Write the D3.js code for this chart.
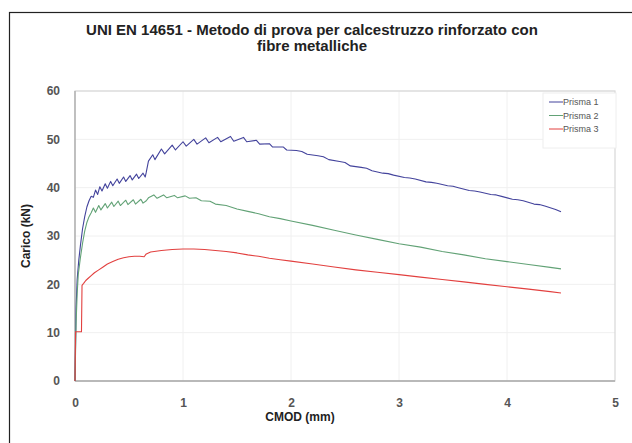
<!DOCTYPE html>
<html><head><meta charset="utf-8">
<script src="https://cdn.jsdelivr.net/npm/d3@7"></script>
<style>body{margin:0;background:#fff;}svg{display:block;}text{font-family:"Liberation Sans",Arial,sans-serif;}</style>
</head><body>
<svg id="c" width="632" height="443"></svg>
<script>
const titleLines = ["UNI EN 14651 - Metodo di prova per calcestruzzo rinforzato con", "fibre metalliche"];
const xLabel = "CMOD (mm)";
const yLabel = "Carico (kN)";
const xTicks = [0, 1, 2, 3, 4, 5];
const yTicks = [0, 10, 20, 30, 40, 50, 60];
const seriesNames = ["Prisma 1", "Prisma 2", "Prisma 3"];
const seriesColors = ["#43439c", "#62a276", "#e2403f"];

const p1x = [0,0.01,0.02,0.035,0.05,0.07,0.09,0.11,0.13,0.15,0.17,0.19,0.21,0.23,0.25,0.28,0.30,0.33,0.35,0.39,0.41,0.45,0.47,0.51,0.53,0.57,0.59,0.63,0.65,0.66,0.68,0.72,0.74,0.80,0.83,0.90,0.93,1.00,1.03,1.10,1.13,1.21,1.24,1.32,1.35,1.44,1.47,1.56,1.59,1.68,1.71,1.80,1.83,1.93,1.96,2.05,2.10,2.15,2.25,2.30,2.35,2.45,2.50,2.55,2.65,2.70,2.75,2.85,2.90,2.95,3.05,3.10,3.15,3.25,3.30,3.35,3.45,3.50,3.55,3.65,3.70,3.75,3.85,3.90,3.95,4.05,4.10,4.15,4.25,4.30,4.35,4.45,4.50];
const p1y = [0,15,21,25,28,31.5,34,36,37.3,38.2,38.0,39.5,38.6,40.2,39.3,40.8,39.9,41.3,40.4,41.8,40.9,42.2,41.3,42.5,41.6,42.8,41.9,43.0,42.2,43.2,45.5,46.8,45.8,48.0,47.0,48.8,47.8,49.5,48.6,50.0,49.0,50.3,49.3,50.4,49.5,50.6,49.6,50.4,49.5,49.8,49.0,49.1,48.4,48.4,47.8,47.7,47.5,46.9,46.6,46.4,45.8,45.4,45.2,44.5,44.2,44.0,43.5,43.0,42.9,42.6,42.1,42.0,41.8,41.2,41.1,40.9,40.4,40.3,40.0,39.4,39.3,39.1,38.6,38.5,38.2,37.6,37.5,37.3,36.6,36.5,36.2,35.5,35.0];

const p2x = [0,0.01,0.02,0.03,0.05,0.07,0.09,0.11,0.13,0.15,0.17,0.19,0.22,0.24,0.28,0.30,0.34,0.36,0.40,0.42,0.47,0.49,0.54,0.56,0.61,0.63,0.66,0.68,0.73,0.76,0.82,0.85,0.92,0.95,1.02,1.06,1.12,1.17,1.25,1.30,1.40,1.50,1.60,1.70,1.80,1.90,2.00,2.20,2.40,2.60,2.80,3.00,3.20,3.40,3.60,3.80,4.00,4.20,4.40,4.50];
const p2y = [0,12,18,22,25.5,28.5,31,32.8,34,34.8,35.8,34.9,36.3,35.4,36.7,35.8,37.0,36.1,37.2,36.3,37.4,36.5,37.5,36.6,37.6,36.8,37.3,37.9,38.5,37.8,38.5,37.9,38.4,37.9,38.3,37.8,37.9,37.3,37.2,36.6,36.3,35.6,35.1,34.6,34.0,33.6,33.1,32.2,31.2,30.2,29.3,28.4,27.7,26.8,26.1,25.3,24.7,24.1,23.5,23.2];

const p3x = [0,0.005,0.03,0.06,0.065,0.08,0.10,0.12,0.15,0.18,0.22,0.26,0.30,0.35,0.40,0.45,0.50,0.55,0.60,0.64,0.66,0.70,0.80,0.90,1.00,1.10,1.20,1.30,1.40,1.50,1.60,1.70,1.80,1.90,2.00,2.20,2.40,2.60,2.80,3.00,3.20,3.40,3.60,3.80,4.00,4.20,4.40,4.50];
const p3y = [0,10.2,10.2,10.2,19.8,20.2,20.8,21.2,21.8,22.4,23.0,23.6,24.2,24.7,25.2,25.5,25.7,25.8,25.8,25.7,26.3,26.7,27.0,27.2,27.3,27.3,27.2,27.0,26.8,26.5,26.1,25.8,25.4,25.1,24.8,24.2,23.6,23.0,22.5,22.0,21.5,21.0,20.5,20.0,19.5,19.0,18.5,18.2];

const seriesX = [p1x, p2x, p3x];
const seriesY = [p1y, p2y, p3y];

const svg = d3.select("#c");
const m = {l:75, r:615, t:91, b:381};
const x = d3.scaleLinear().domain([0,5]).range([m.l, m.r]);
const y = d3.scaleLinear().domain([0,60]).range([m.b, m.t]);

// outer frame
svg.append("rect").attr("x",9.5).attr("y",12.5).attr("width",640).attr("height",450)
  .attr("fill","#fff").attr("stroke","#222").attr("stroke-width",1.2);

// gridlines
svg.append("g").selectAll("line").data(yTicks.slice(1)).join("line")
  .attr("x1",m.l).attr("x2",m.r).attr("y1",d=>y(d)).attr("y2",d=>y(d))
  .attr("stroke","#f0f0f0").attr("stroke-width",1);
svg.append("g").selectAll("line").data(xTicks.slice(1,-1)).join("line")
  .attr("y1",m.t).attr("y2",m.b).attr("x1",d=>x(d)).attr("x2",d=>x(d))
  .attr("stroke","#f0f0f0").attr("stroke-width",1);

// plot border
svg.append("rect").attr("x",m.l).attr("y",m.t).attr("width",m.r-m.l).attr("height",m.b-m.t)
  .attr("fill","none").attr("stroke","#d8d8d8").attr("stroke-width",1.2);

// axes
const xAxis = d3.axisBottom(x).tickValues(xTicks).tickSize(0).tickPadding(17).tickFormat(d3.format("d"));
const yAxis = d3.axisLeft(y).tickValues(yTicks).tickSize(0).tickPadding(15).tickFormat(d3.format("d"));
const gx = svg.append("g").attr("transform",`translate(0,${m.b})`).call(xAxis);
const gy = svg.append("g").attr("transform",`translate(${m.l},0)`).call(yAxis);
[gx,gy].forEach(g=>{
  g.selectAll("text").attr("font-size",12).attr("font-weight","bold").attr("fill","#555")
   .attr("font-family","Liberation Sans, Arial, sans-serif");
});
gy.select(".domain").remove();
gx.select(".domain").remove();
svg.append("line").attr("x1",m.l).attr("x2",m.l).attr("y1",m.t).attr("y2",m.b).attr("stroke","#aaa").attr("stroke-width",1.3);
svg.append("line").attr("x1",m.l).attr("x2",m.r).attr("y1",m.b).attr("y2",m.b).attr("stroke","#aaa").attr("stroke-width",1.3);

// series
const line = d3.line().x(d=>x(d[0])).y(d=>y(d[1]));
seriesX.forEach((xs,i)=>{
  const pts = xs.map((v,j)=>[v, seriesY[i][j]]);
  svg.append("path").datum(pts).attr("d",line).attr("fill","none")
    .attr("stroke",seriesColors[i]).attr("stroke-width",1.1).attr("stroke-linejoin","round");
});

// legend
const lg = svg.append("g");
lg.append("rect").attr("x",543).attr("y",93).attr("width",73).attr("height",55)
  .attr("fill","#fff").attr("stroke","#eee");
seriesNames.forEach((n,i)=>{
  const yy = 102 + i*13.5;
  lg.append("line").attr("x1",549).attr("x2",563).attr("y1",yy).attr("y2",yy)
    .attr("stroke",seriesColors[i]).attr("stroke-width",1);
  lg.append("text").attr("x",563).attr("y",yy+3.2).attr("font-size",9).attr("fill","#555").text(n);
});

// title
svg.append("text").attr("x",312).attr("y",35).attr("text-anchor","middle").attr("font-size",15)
  .attr("font-weight","bold").attr("fill","#222").text(titleLines[0]);
svg.append("text").attr("x",312).attr("y",51).attr("text-anchor","middle").attr("font-size",15)
  .attr("font-weight","bold").attr("fill","#222").text(titleLines[1]);

// axis labels
svg.append("text").attr("x",300).attr("y",421).attr("text-anchor","middle").attr("font-size",12)
  .attr("font-weight","bold").attr("fill","#222").text(xLabel);
svg.append("text").attr("transform","translate(30,236) rotate(-90)").attr("text-anchor","middle")
  .attr("font-size",12).attr("font-weight","bold").attr("fill","#222").text(yLabel);
</script>
</body></html>
